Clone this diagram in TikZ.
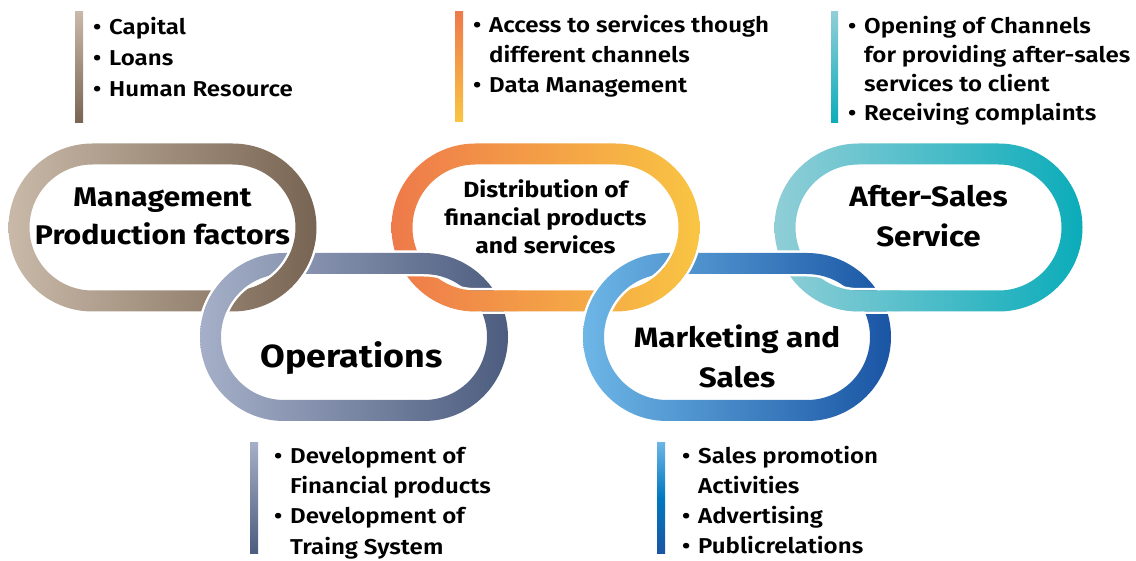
\documentclass[tikz,border=0pt]{standalone}
\usepackage{fontspec}
\setmainfont{Fira Sans}[FakeStretch=1.12]
\newfontfamily\semifont{Fira Sans SemiBold}[FakeStretch=1.12]

\definecolor{mgmtL}{HTML}{C9B9A8}
\definecolor{mgmtR}{HTML}{786452}
\definecolor{distL}{HTML}{EE7A4A}
\definecolor{distR}{HTML}{F9C543}
\definecolor{aftL}{HTML}{90CED7}
\definecolor{aftR}{HTML}{0BACBA}
\definecolor{opsL}{HTML}{A5AFC8}
\definecolor{opsR}{HTML}{4D5D7F}
\definecolor{mktL}{HTML}{6DB6E6}
\definecolor{mktM}{HTML}{0078C0}
\definecolor{mktR}{HTML}{1A55A4}

% one chain link: centre x, centre y (downwards), shading style
\newcommand{\chainring}[3]{%
  \fill[white, even odd rule, rounded corners=86.5pt]
    (#1-156.5,-#2-86.5) rectangle (#1+156.5,-#2+86.5)
    [rounded corners=84pt] (#1-154,-#2-84) rectangle (#1+154,-#2+84)
    [rounded corners=63pt] (#1-133,-#2-63) rectangle (#1+133,-#2+63)
    [rounded corners=60.5pt] (#1-130.5,-#2-60.5) rectangle (#1+130.5,-#2+60.5);
  \shade[#3, even odd rule, rounded corners=84pt]
    (#1-154,-#2-84) rectangle (#1+154,-#2+84)
    [rounded corners=63pt] (#1-133,-#2-63) rectangle (#1+133,-#2+63);
}
\newcommand{\itm}{\makebox[16pt][l]{•}}
\newcommand{\cnt}{\hspace*{16pt}}

\tikzset{
  mgmtshade/.style={left color=mgmtL, right color=mgmtR},
  distshade/.style={left color=distL, right color=distR},
  aftshade/.style={left color=aftL, right color=aftR},
  opsshade/.style={left color=opsL, right color=opsR},
  mktshade/.style={left color=mktL, middle color=mktM, right color=mktR},
  title/.style={anchor=base, inner sep=0pt, font=\bfseries\fontsize{28}{#1}\selectfont},
  title/.default=40,
  itemlist/.style={anchor=base west, inner sep=0pt, font=\semifont\fontsize{21.5}{#1}\selectfont},
  itemlist/.default=30
}

\begin{document}
\begin{tikzpicture}[x=1pt, y=1pt]
  \tikzstyle{every node}=[text=black]
  \useasboundingbox (0,0) rectangle (1136,-561);

  % upper links
  \chainring{162.5}{227.5}{mgmtshade}
  \chainring{545.5}{227.5}{distshade}
  \chainring{928.5}{227.5}{aftshade}

  % lower links
  \chainring{354}{337}{opsshade}
  \chainring{737}{337}{mktshade}

  % crossings where the upper link lies on top
  \begin{scope}
    \clip (255,-240) rectangle (325,-290);
    \chainring{162.5}{227.5}{mgmtshade}
  \end{scope}
  \begin{scope}
    \clip (448,-284) rectangle (518,-318);
    \chainring{545.5}{227.5}{distshade}
  \end{scope}
  \begin{scope}
    \clip (638,-240) rectangle (708,-290);
    \chainring{545.5}{227.5}{distshade}
  \end{scope}
  \begin{scope}
    \clip (831,-284) rectangle (901,-318);
    \chainring{928.5}{227.5}{aftshade}
  \end{scope}

  % titles
  \node[title=38, font=\bfseries\fontsize{27}{38}\selectfont] (mgmt) at (162.5,-207)
    {\parbox[t]{300pt}{\centering Management\\Production factors}};
  \node[title, font=\bfseries\fontsize{22}{28}\selectfont] (dist) at (545.5,-198)
    {\parbox[t]{260pt}{\centering Distribution of\\financial products\\and services}};
  \node[title] (aft) at (928.5,-207) {\parbox[t]{260pt}{\centering After-Sales\\Service}};
  \node[title, font=\bfseries\fontsize{32}{40}\selectfont] (ops) at (351.5,-368) {Operations};
  \node[title] (mkt) at (737,-348) {\parbox[t]{260pt}{\centering Marketing and\\Sales}};

  % side bars
  \shade[top color=mgmtL, bottom color=mgmtR] (75,-12) rectangle (83,-123);
  \shade[top color=distL, bottom color=distR] (455,-12) rectangle (463,-122);
  \shade[top color=aftL, bottom color=aftR] (831,-12) rectangle (838,-123);
  \shade[top color=opsL, bottom color=opsR] (250,-442) rectangle (258,-553);
  \shade[top color=mktL, bottom color=mktR, middle color=mktM] (657,-442) rectangle (665,-553);

  % item lists
  \node[itemlist=31] (capital) at (93,-35)
    {\parbox[t]{300pt}{\raggedright\itm Capital\\\itm Loans\\\itm Human Resource}};
  \node[itemlist] (access) at (473,-33)
    {\parbox[t]{340pt}{\raggedright\itm Access to services though\\\cnt different channels\\\itm Data Management}};
  \node[itemlist=29] (opening) at (848,-34)
    {\parbox[t]{300pt}{\raggedright\itm Opening of Channels\\\cnt for providing after-sales\\\cnt services to client\\\itm Receiving complaints}};
  \node[itemlist=30.5] (develop) at (274,-463)
    {\parbox[t]{300pt}{\raggedright\itm Development of\\\cnt Financial products\\\itm Development of\\\cnt Traing System}};
  \node[itemlist] (promo) at (682,-463)
    {\parbox[t]{300pt}{\raggedright\itm Sales promotion\\\cnt Activities\\\itm Advertising\\\itm Publicrelations}};
\end{tikzpicture}
\end{document}
